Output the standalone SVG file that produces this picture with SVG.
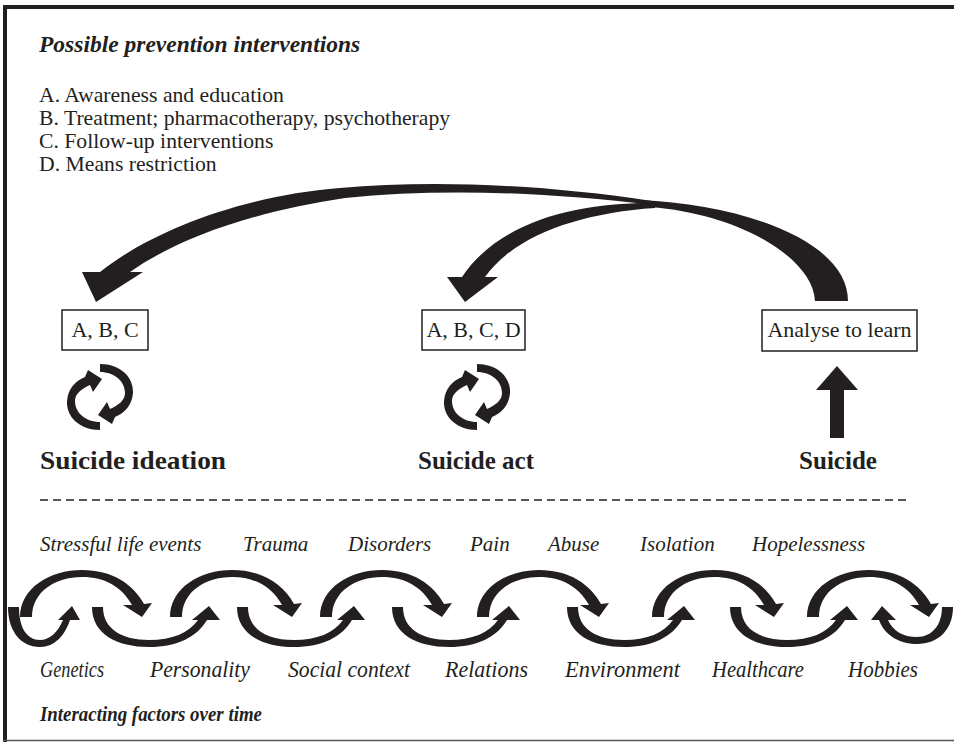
<svg xmlns="http://www.w3.org/2000/svg" width="954" height="742" viewBox="0 0 954 742">
<style>
.t{font-family:"Liberation Serif","Times New Roman",serif;fill:#231f20}
.h{font-size:23.5px;font-weight:bold;font-style:italic}
.f{font-size:22px;font-weight:bold;font-style:italic}
.l{font-size:21.7px}
.bx{font-size:22px}
.s{font-size:25px;font-weight:bold}
.i{font-size:21px;font-style:italic}
.c{font-size:23px;font-style:italic}
.m{text-anchor:middle}
.box{fill:#fff;stroke:#231f20;stroke-width:1.5}
.blk{fill:#231f20}
.frame{stroke:#231f20;stroke-width:4;fill:none}
</style>
<defs>
<path id="cyc" d="M 0 -33 C 20 -33 34 -20 33 -4 C 32 8 25 16 15 20 L 12 27 L -2 18 L 7 5 L 10 12 C 19 8 25 3 25 -4 C 25 -16 14 -25 0 -25 Z"/>
<g id="cycle" class="blk"><use href="#cyc"/><use href="#cyc" transform="rotate(180)"/></g>
<path id="up" d="M 0 47 C 0 18 30 0 62 0 C 92 0 113 14 124 34 L 132 33 L 122 47 L 103 35 L 112 35 C 102 17 85 7 62 7 C 35 7 12 22 12 47 Z"/>
<path id="lo" d="M 0 0 C 0 27 25 40 57 40 C 85 40 105 30 115 13 L 128 13 L 117 -1 L 100 13 L 106 13 C 97 26 80 33 57 33 C 30 33 11 22 11 0 Z"/>
</defs>
<rect width="954" height="742" fill="#fff"/>
<g id="frame">
<line class="frame" x1="5" y1="5" x2="5" y2="742"/>
<line class="frame" x1="3" y1="7" x2="954" y2="7"/>
<line x1="3" y1="740.5" x2="954" y2="740.5" stroke="#555" stroke-width="1.5"/>
</g>
<g id="interventions">
<text class="t h" x="39" y="52">Possible prevention interventions</text>
<text class="t l" x="39" y="102">A. Awareness and education</text>
<text class="t l" x="39" y="125">B. Treatment; pharmacotherapy, psychotherapy</text>
<text class="t l" x="39" y="148">C. Follow-up interventions</text>
<text class="t l" x="39" y="171">D. Means restriction</text>
</g>
<g id="connectors" class="blk">
<path d="M 640 200 C 740 204 848 240 848 301 L 815 301 C 813 258 740 214 650 207 Z"/>
<path d="M 652 201 C 540 184 430 180 340 188 C 240 196 150 232 100 272 L 82 272 L 96 302 L 143 272 L 130 272 C 175 240 250 212 345 198 C 440 188 545 192 652 205 Z"/>
<path d="M 655 203 C 580 202 500 220 462 277 L 447 277 L 465 302 L 498 277 L 485 277 C 515 235 580 213 655 208 Z"/>
<path d="M 830 438 L 830 390 L 816 390 L 837 366 L 858 390 L 844 390 L 844 438 Z"/>
</g>
<g id="node-abc">
<rect class="box" x="62" y="310" width="86" height="40"/>
<text class="t bx m" x="105" y="337">A, B, C</text>
</g>
<g id="node-abcd">
<rect class="box" x="422" y="310" width="103" height="40"/>
<text class="t bx m" x="473.5" y="337">A, B, C, D</text>
</g>
<g id="node-analyse">
<rect class="box" x="762" y="310" width="155" height="41"/>
<text class="t bx m" x="839.5" y="337">Analyse to learn</text>
</g>
<g id="node-ideation">
<use href="#cycle" x="100" y="397"/>
<text class="t s" x="40" y="469" textLength="186" lengthAdjust="spacingAndGlyphs">Suicide ideation</text>
</g>
<g id="node-act">
<use href="#cycle" x="477" y="397"/>
<text class="t s m" x="476" y="469">Suicide act</text>
</g>
<g id="node-suicide">
<text class="t s m" x="838" y="469">Suicide</text>
</g>
<line id="divider" x1="40" y1="500" x2="910" y2="500" stroke="#231f20" stroke-width="1.5" stroke-dasharray="8 5"/>
<g id="stressors">
<text class="t i" x="40" y="551">Stressful life events</text>
<text class="t i" x="243" y="551">Trauma</text>
<text class="t i" x="348" y="551">Disorders</text>
<text class="t i" x="470" y="551">Pain</text>
<text class="t i" x="548" y="551">Abuse</text>
<text class="t i" x="640" y="551">Isolation</text>
<text class="t i" x="752" y="551">Hopelessness</text>
</g>
<g id="chain" class="blk">
<use href="#up" x="20" y="570"/>
<use href="#up" x="170" y="570"/>
<use href="#up" x="320" y="570"/>
<use href="#up" x="477" y="570"/>
<use href="#up" x="652" y="570"/>
<use href="#up" x="807" y="570"/>
<path d="M 8 607 C 8 630 20 647 40 647 C 55 647 65 635 70 620 L 80 620 L 72 606 L 58 620 L 63 620 C 58 632 50 640 40 640 C 27 640 19 628 19 607 Z"/>
<use href="#lo" x="92" y="607"/>
<use href="#lo" x="237" y="607"/>
<use href="#lo" x="392" y="607"/>
<use href="#lo" x="567" y="607"/>
<use href="#lo" x="730" y="607"/>
<path d="M 953 607 C 953 630 938 644 917 644 C 898 644 884 634 879 620 L 871 620 L 882 606 L 896 620 L 888 620 C 893 631 903 637 917 637 C 932 637 942 625 942 607 Z"/>
</g>
<g id="factors">
<text class="t c" x="40" y="677" textLength="64" lengthAdjust="spacingAndGlyphs">Genetics</text>
<text class="t c" x="150" y="677" textLength="100" lengthAdjust="spacingAndGlyphs">Personality</text>
<text class="t c" x="288" y="677" textLength="122" lengthAdjust="spacingAndGlyphs">Social context</text>
<text class="t c" x="445" y="677" textLength="83" lengthAdjust="spacingAndGlyphs">Relations</text>
<text class="t c" x="565" y="677" textLength="115" lengthAdjust="spacingAndGlyphs">Environment</text>
<text class="t c" x="712" y="677" textLength="92" lengthAdjust="spacingAndGlyphs">Healthcare</text>
<text class="t c" x="848" y="677" textLength="70" lengthAdjust="spacingAndGlyphs">Hobbies</text>
<text class="t f" x="40" y="721" textLength="222" lengthAdjust="spacingAndGlyphs">Interacting factors over time</text>
</g>
</svg>
